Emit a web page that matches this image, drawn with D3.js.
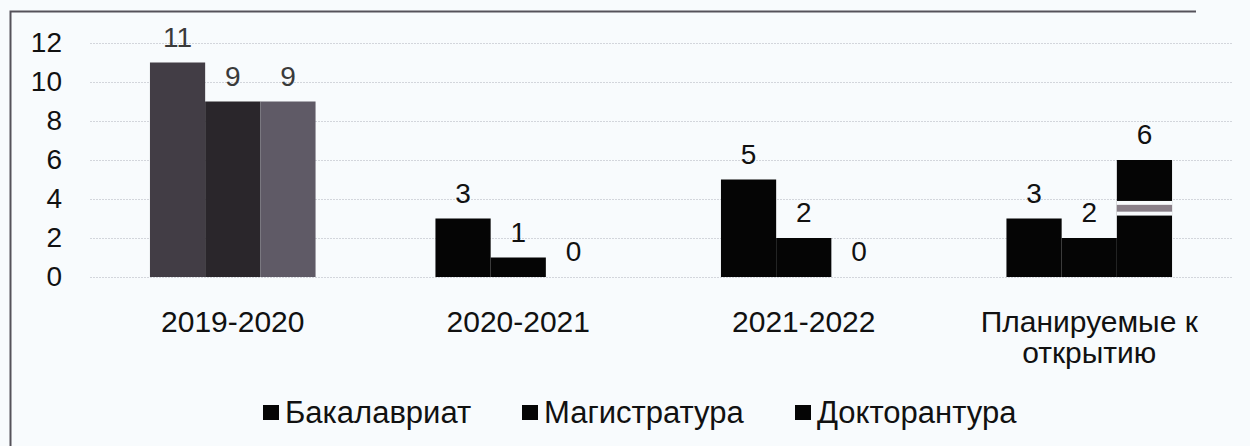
<!DOCTYPE html>
<html>
<head>
  <meta charset="utf-8">
  <title>Bar chart</title>
  <script src="https://cdnjs.cloudflare.com/ajax/libs/d3/7.8.5/d3.min.js"></script>
  <style>
    body { margin: 0; background: #f8fbfd; }
    text { font-family: "Liberation Sans", Arial, sans-serif; fill: #111; }
  </style>
</head>
<body>
<div id="chart"></div>
<script>
var categories = ['2019-2020', '2020-2021', '2021-2022', 'Планируемые к открытию'];
var seriesNames = ['Бакалавриат', 'Магистратура', 'Докторантура'];
var bachelor = [11, 3, 5, 3];
var master = [9, 1, 2, 2];
var doctorate = [9, 0, 0, 6];
var yTicks = [0, 2, 4, 6, 8, 10, 12];

var values = [bachelor, master, doctorate];
var fs = '28px';

var width = 1250, height = 446;
var svg = d3.select('#chart').append('svg')
  .attr('width', width)
  .attr('height', height);

// frame (only left and top edge visible in the scan)
svg.append('path')
  .attr('d', 'M10.5,446 V11.5 H1196')
  .attr('fill', 'none')
  .attr('stroke', '#55525a')
  .attr('stroke-width', 2);

var x0 = d3.scaleBand().domain(categories).range([90, 1232]).paddingInner(0.42).paddingOuter(0.21);
var x1 = d3.scaleBand().domain(seriesNames).range([0, x0.bandwidth()]);
var y = d3.scaleLinear().domain([0, 12]).range([277, 43]);

// gridlines
svg.append('g')
  .selectAll('line')
  .data(yTicks)
  .enter()
  .append('line')
  .attr('x1', 90).attr('x2', 1232)
  .attr('y1', function(d){ return y(d) + 0.5; })
  .attr('y2', function(d){ return y(d) + 0.5; })
  .attr('stroke', '#d3d6dc')
  .attr('stroke-dasharray', '2,1');

// y axis labels
var yAxis = d3.axisLeft(y).tickValues(yTicks).tickSize(0).tickPadding(0);
var ya = svg.append('g').attr('transform', 'translate(62,0)').call(yAxis);
ya.select('.domain').remove();
ya.selectAll('text').style('font-size', fs).attr('fill', '#111');

// colours: first group comes out grey/purple in the print, others black
function barColor(ci, si) {
  if (ci === 0) return ['#423d45', '#2a262b', '#5f5a66'][si];
  return '#050505';
}

var groups = svg.selectAll('.grp')
  .data(categories)
  .enter()
  .append('g')
  .attr('class', 'grp')
  .attr('transform', function(d){ return 'translate(' + x0(d) + ',0)'; });

groups.each(function(cat, ci) {
  var g = d3.select(this);
  seriesNames.forEach(function(s, si) {
    var v = values[si][ci];
    g.append('rect')
      .attr('x', x1(s))
      .attr('y', y(v))
      .attr('width', x1.bandwidth())
      .attr('height', y(0) - y(v))
      .attr('fill', barColor(ci, si));
    g.append('text')
      .attr('x', x1(s) + x1.bandwidth() / 2)
      .attr('y', y(v) - 16)
      .attr('text-anchor', 'middle')
      .style('font-size', fs)
      .style('fill', ci === 0 ? '#3a3a3a' : '#111')
      .text(v);
  });
});

// scan artefact on the last doctorate bar: light stripe across it
var lastX = x0(categories[3]) + x1(seriesNames[2]);
svg.append('rect')
  .attr('x', lastX).attr('width', x1.bandwidth())
  .attr('y', y(3.9)).attr('height', y(3.15) - y(3.9))
  .attr('fill', '#f8fbfd');
svg.append('rect')
  .attr('x', lastX).attr('width', x1.bandwidth())
  .attr('y', y(3.7)).attr('height', y(3.35) - y(3.7))
  .attr('fill', '#8a8089');

// category labels
var xAxis = d3.axisBottom(x0).tickSize(0).tickPadding(0);
var xa = svg.append('g').attr('transform', 'translate(0,332)').call(xAxis);
xa.select('.domain').remove();
xa.selectAll('text').remove();
xa.selectAll('.tick').each(function(d) {
  var t = d3.select(this).append('text')
    .attr('text-anchor', 'middle')
    .style('font-size', '30px');
  var words = d === 'Планируемые к открытию' ? ['Планируемые к', 'открытию'] : [d];
  words.forEach(function(w, i) {
    t.append('tspan').attr('x', 0).attr('y', i * 31).text(w);
  });
});

// legend
var legendX = [263, 522, 795];
var leg = svg.selectAll('.leg')
  .data(seriesNames)
  .enter()
  .append('g')
  .attr('class', 'leg')
  .attr('transform', function(d, i){ return 'translate(' + legendX[i] + ',423)'; });
leg.append('rect')
  .attr('x', 0).attr('y', -18)
  .attr('width', 16).attr('height', 15)
  .attr('fill', '#050505');
leg.append('text')
  .attr('x', 22)
  .style('font-size', '31px')
  .text(function(d){ return d; });
</script>
</body>
</html>
